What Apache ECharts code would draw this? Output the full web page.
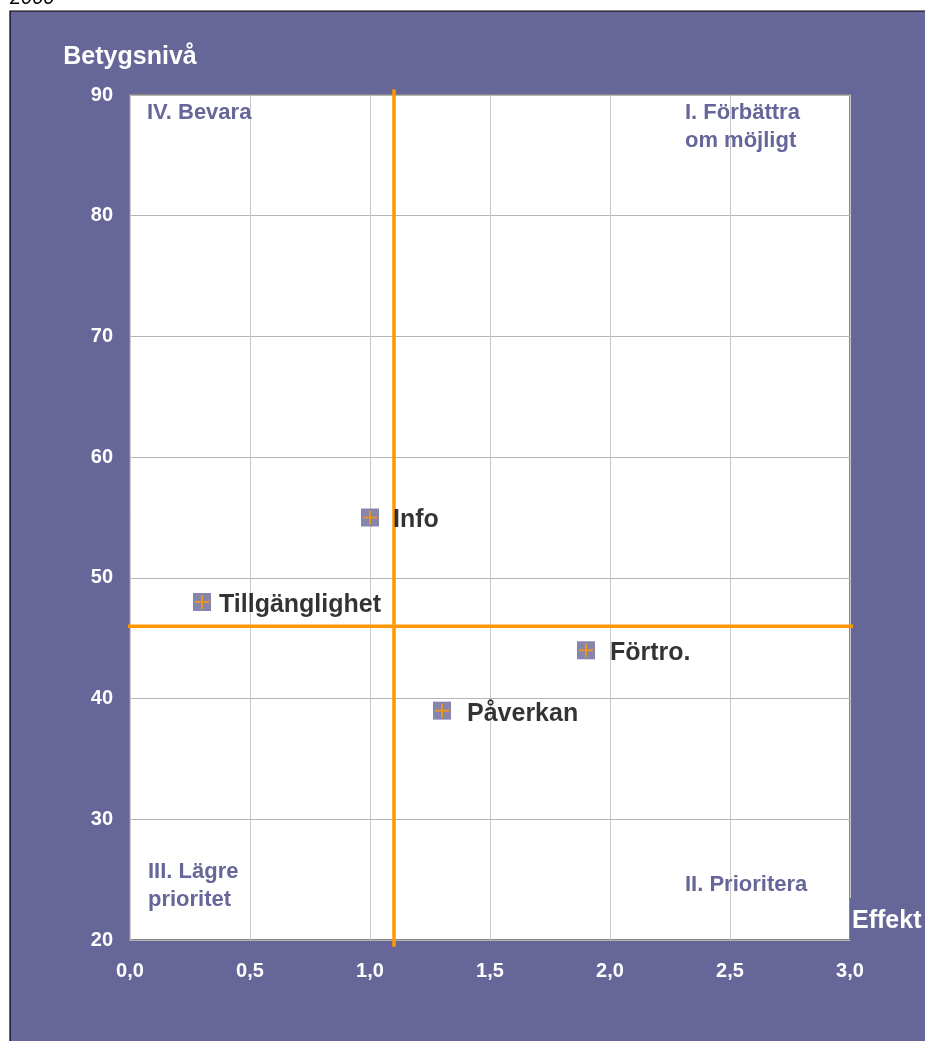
<!DOCTYPE html>
<html>
<head>
<meta charset="utf-8">
<script src="https://cdn.jsdelivr.net/npm/echarts@6/dist/echarts.min.js"></script>
<style>
html,body{margin:0;padding:0;background:#fff;overflow:hidden;}
#chart{width:925px;height:1041px;}
</style>
</head>
<body>
<div id="chart"></div>
<script>
// ---- data ----
var categories = ['Info', 'Tillgänglighet', 'Förtro.', 'Påverkan'];
var effektValues = [1.0, 0.3, 1.9, 1.3];
var betygValues = [55, 48, 44, 39];
var xTickLabels = ['0,0', '0,5', '1,0', '1,5', '2,0', '2,5', '3,0'];
var yTickLabels = ['20', '30', '40', '50', '60', '70', '80', '90'];
var effektThreshold = 1.1;
var betygThreshold = 46;
var quadrantLabels = ['IV. Bevara', 'I. Förbättra\nom möjligt', 'III. Lägre\nprioritet', 'II. Prioritera'];

// ---- styling ----
var labelDistances = [14, 8, 15, 16];
var PURPLE = '#666699';
var ORANGE = '#FF9900';
var FONT = 'Liberation Sans, Arial, sans-serif';

var chart = echarts.init(document.getElementById('chart'), null, {renderer: 'canvas', width: 925, height: 1041});

var pts = categories.map(function (c, i) {
  return {
    name: c,
    value: [effektValues[i], betygValues[i]],
    label: {distance: labelDistances[i]}
  };
});
var pts2 = categories.map(function (c, i) {
  return {name: c, value: [effektValues[i], betygValues[i]]};
});

var qStyle = function (t) {
  return {text: t, font: 'bold 22px ' + FONT, fill: PURPLE, lineHeight: 28};
};

var option = {
  backgroundColor: '#ffffff',
  animation: false,
  graphic: [
    {type: 'rect', shape: {x: 10, y: 11, width: 930, height: 1040}, style: {fill: PURPLE, stroke: '#000', lineWidth: 1.2}, z: -10},
    {type: 'text', left: 10, top: -12, style: {text: '2000', font: 'italic 20px ' + FONT, fill: '#000'}},
    {type: 'text', left: 147, top: 99, style: qStyle(quadrantLabels[0]), z: 5},
    {type: 'text', left: 685, top: 99, style: qStyle(quadrantLabels[1]), z: 5},
    {type: 'text', left: 148, top: 858, style: qStyle(quadrantLabels[2]), z: 5},
    {type: 'text', left: 685, top: 871, style: qStyle(quadrantLabels[3]), z: 5}
  ],
  grid: {
    left: 130, top: 95, right: 75, bottom: 101,
    outerBoundsMode: 'none', containLabel: false,
    show: true, backgroundColor: '#ffffff', borderColor: '#888888', borderWidth: 2
  },
  xAxis: {
    type: 'value', min: 0, max: 3, interval: 0.5,
    name: 'Effekt', nameLocation: 'end', nameGap: 0,
    nameTextStyle: {
      color: '#fff', fontWeight: 'bold', fontSize: 25, fontFamily: FONT,
      align: 'left', verticalAlign: 'bottom', backgroundColor: PURPLE,
      lineHeight: 30, padding: [8, 20, 4, 2]
    },
    axisLine: {show: false},
    axisTick: {show: false},
    splitLine: {show: true, lineStyle: {color: '#c8c8c8', width: 1}},
    axisLabel: {
      color: '#fff', fontWeight: 'bold', fontSize: 20, fontFamily: FONT, margin: 21,
      formatter: function (v) { return xTickLabels[Math.round(v / 0.5)]; }
    }
  },
  yAxis: {
    type: 'value', min: 20, max: 90, interval: 10,
    name: 'Betygsnivå', nameLocation: 'end', nameGap: 25,
    nameTextStyle: {color: '#fff', fontWeight: 'bold', fontSize: 25, fontFamily: FONT, align: 'center'},
    axisLine: {show: false},
    axisTick: {show: false},
    splitLine: {show: true, lineStyle: {color: '#b4b4b4', width: 1}},
    axisLabel: {
      color: '#fff', fontWeight: 'bold', fontSize: 20, fontFamily: FONT, margin: 17,
      formatter: function (v) { return yTickLabels[Math.round((v - 20) / 10)]; }
    }
  },
  series: [
    {
      type: 'line', clip: false, symbol: 'none', silent: true, z: 3,
      data: [[effektThreshold, 90.45], [effektThreshold, 19.45]],
      lineStyle: {color: ORANGE, width: 3.5}
    },
    {
      type: 'line', clip: false, symbol: 'none', silent: true, z: 3,
      data: [[-0.03, betygThreshold], [3.03, betygThreshold]],
      lineStyle: {color: ORANGE, width: 3.5}
    },
    {
      type: 'scatter', symbol: 'rect', symbolSize: 18, z: 4,
      itemStyle: {color: PURPLE},
      data: pts,
      label: {
        show: true, position: 'right', formatter: '{b}', offset: [0, 3],
        color: '#000', fontWeight: 'bold', fontSize: 25, fontFamily: FONT
      }
    },
    {
      type: 'scatter', z: 5,
      symbol: 'path://M6,0h2v6h6v2h-6v6h-2v-6h-6v-2h6z', symbolSize: 14,
      itemStyle: {color: ORANGE},
      data: pts2
    }
  ]
};
chart.setOption(option);
</script>
</body>
</html>
